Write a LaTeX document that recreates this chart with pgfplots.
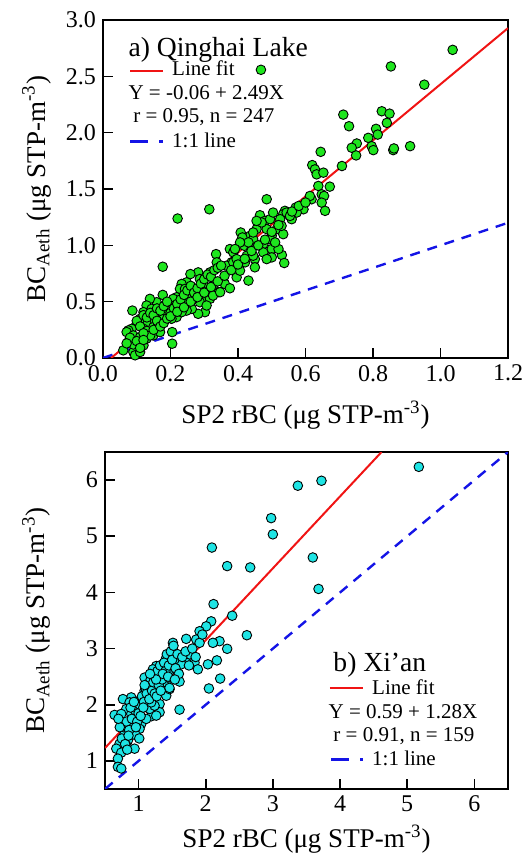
\documentclass[border=0pt]{standalone}
\usepackage{fontspec}
\setmainfont{Liberation Serif}
\usepackage{pgfplots}
\pgfplotsset{compat=1.18}
\definecolor{qgreen}{RGB}{30,230,30}
\definecolor{xcyan}{RGB}{30,228,228}
\definecolor{fitred}{RGB}{240,20,20}
\definecolor{oneblue}{RGB}{20,20,230}

\tikzset{
  fitline/.style={fitred, line width=1pt},
  oneline/.style={oneblue, line width=1.2pt, dash pattern=on 5pt off 4pt},
  onekey/.style={oneblue, line width=1.2pt, dash pattern=on 9pt off 5.5pt on 2pt off 5pt},
  lgd/.style={anchor=base west, inner sep=0pt, font=\fontsize{10.5}{12}\selectfont},
}
\pgfplotsset{
  panel/.style={
    width=202.5pt, height=169pt, scale only axis,
    axis line style={line width=1pt},
    tick align=inside, tick pos=left,
    major tick length=5pt,
    tick style={line width=0.8pt, black},
    ticklabel style={font=\fontsize{12}{14}\selectfont},
    label style={font=\fontsize{13.5}{15}\selectfont},
    /pgf/number format/assume math mode=true,
  },
  dots/.style={only marks, mark=*, mark size=2.4pt,
    mark options={fill=#1, draw=black, line width=0.45pt}},
}

\begin{document}
\begin{tikzpicture}
\useasboundingbox (-51.5pt,10pt) rectangle (211pt,-418pt);

% a) Qinghai Lake
\begin{axis}[panel, at={(0,0)}, anchor=north west,
    xmin=0, xmax=1.2, ymin=0, ymax=3,
    xtick={0,0.2,0.4,0.6,0.8,1.0,1.2},
    ytick={0,0.5,1.0,1.5,2.0,2.5,3.0},
    /pgf/number format/.cd, fixed, fixed zerofill, precision=1, /pgfplots/.cd,
    xlabel={SP2 rBC (μg STP-m\textsuperscript{-3})},
    ylabel={BC\textsubscript{Aeth} (μg STP-m\textsuperscript{-3})},
    xlabel style={at={(axis description cs:0.5,-0.195)}, anchor=base},
    ylabel style={at={(axis description cs:-0.143,0.5)}, anchor=base},
]
\addplot[dots=qgreen] coordinates {
(1.036,2.735) (0.468,2.558) (0.853,2.588) (0.952,2.426) (0.712,2.160) (0.729,2.057)
(0.826,2.190) (0.849,2.169) (0.841,2.087) (0.809,2.034) (0.814,1.983) (0.786,1.954)
(0.796,1.880) (0.801,1.845) (0.752,1.904) (0.737,1.866) (0.750,1.798) (0.860,1.845)
(0.862,1.860) (0.910,1.880) (0.708,1.704) (0.645,1.830) (0.620,1.712) (0.628,1.674)
(0.633,1.630) (0.653,1.645) (0.672,1.521) (0.638,1.527) (0.618,1.409) (0.648,1.453)
(0.655,1.438) (0.648,1.379) (0.658,1.306) (0.613,1.438) (0.594,1.320) (0.571,1.335)
(0.564,1.291) (0.559,1.232) (0.539,1.306) (0.534,1.276) (0.485,1.409) (0.465,1.267)
(0.480,1.217) (0.495,1.232) (0.504,1.291) (0.515,1.144) (0.534,1.099) (0.500,1.085)
(0.495,1.055) (0.455,1.144) (0.436,1.085) (0.408,1.114) (0.413,1.070) (0.419,0.996)
(0.445,1.055) (0.465,0.996) (0.475,1.011) (0.500,0.967) (0.500,0.893) (0.530,0.914)
(0.537,0.843) (0.450,0.878) (0.426,0.908) (0.450,0.805) (0.431,0.687) (0.396,0.716)
(0.406,0.775) (0.376,0.967) (0.386,0.937) (0.381,0.849) (0.376,0.819) (0.366,0.819)
(0.335,0.922) (0.337,0.849) (0.317,0.760) (0.315,1.320) (0.221,1.238) (0.177,0.810)
(0.361,0.657) (0.376,0.619) (0.342,0.584) (0.314,0.584) (0.307,0.525) (0.287,0.495)
(0.302,0.407) (0.282,0.392) (0.282,0.760) (0.277,0.613) (0.268,0.525) (0.253,0.613)
(0.248,0.672) (0.233,0.657) (0.228,0.613) (0.218,0.539) (0.233,0.466) (0.208,0.525)
(0.199,0.466) (0.208,0.421) (0.218,0.363) (0.189,0.392) (0.203,0.348) (0.205,0.230)
(0.205,0.127) (0.177,0.560) (0.159,0.495) (0.139,0.525) (0.129,0.466) (0.144,0.436)
(0.159,0.407) (0.169,0.363) (0.144,0.333) (0.129,0.304) (0.120,0.259) (0.149,0.274)
(0.164,0.304) (0.110,0.348) (0.120,0.407) (0.087,0.421) (0.100,0.304) (0.085,0.259)
(0.075,0.245) (0.070,0.230) (0.090,0.200) (0.085,0.141) (0.100,0.097) (0.120,0.112)
(0.129,0.171) (0.110,0.186) (0.149,0.200) (0.169,0.230) (0.060,0.068) (0.075,0.141)
(0.090,0.053) (0.095,0.024) (0.110,0.053) (0.134,0.230) (0.179,0.348) (0.189,0.466)
(0.243,0.613) (0.259,0.745) (0.287,0.701) (0.298,0.657) (0.326,0.643) (0.298,0.584)
(0.263,0.554) (0.248,0.495) (0.263,0.436) (0.248,0.421) (0.233,0.407) (0.317,0.525)
(0.326,0.554) (0.347,0.584) (0.307,0.466) (0.386,0.849) (0.396,0.878) (0.421,0.849)
(0.440,0.967) (0.445,0.908) (0.475,0.937) (0.485,0.878) (0.520,0.967) (0.510,1.026)
(0.525,1.232) (0.529,1.173) (0.544,1.291) (0.574,1.291) (0.554,1.261) (0.485,1.144)
(0.470,1.203) (0.455,1.217) (0.445,1.114) (0.431,1.026) (0.406,1.026) (0.391,0.967)
(0.10,0.33) (0.12,0.38) (0.13,0.36) (0.14,0.40) (0.15,0.38) (0.16,0.44) (0.17,0.42)
(0.11,0.28) (0.13,0.24) (0.14,0.20) (0.12,0.22) (0.16,0.33) (0.18,0.46) (0.19,0.50)
(0.20,0.40) (0.21,0.44) (0.22,0.48) (0.23,0.52) (0.24,0.56) (0.25,0.60) (0.26,0.64)
(0.27,0.58) (0.28,0.62) (0.29,0.66) (0.30,0.70) (0.31,0.74) (0.32,0.72) (0.33,0.78)
(0.34,0.80) (0.35,0.82) (0.09,0.12) (0.08,0.18) (0.07,0.13) (0.10,0.15) (0.11,0.09)
(0.12,0.16) (0.15,0.25) (0.17,0.28) (0.18,0.31) (0.19,0.35) (0.20,0.37) (0.22,0.41)
(0.24,0.45) (0.26,0.50) (0.28,0.54) (0.30,0.58) (0.32,0.63) (0.34,0.68) (0.36,0.73)
(0.38,0.78) (0.40,0.83) (0.42,0.88) (0.44,0.95) (0.46,1.00) (0.48,1.05) (0.50,1.12)
(0.52,1.18) (0.56,1.30) (0.58,1.35) (0.60,1.38)
};
\addplot[oneline] coordinates {(0,0) (1.2,1.2)};
\addplot[fitline] coordinates {(0.0241,0) (1.2,2.928)};
\node[anchor=base west, inner sep=0pt, font=\fontsize{13.8}{15}\selectfont] at (rel axis cs:0.062,0.891) {a) Qinghai Lake};
\draw[fitline] (rel axis cs:0.067,0.850) -- (rel axis cs:0.148,0.850);
\node[lgd] at (rel axis cs:0.170,0.835) {Line fit};
\node[lgd] at (rel axis cs:0.062,0.764) {Y = -0.06 + 2.49X};
\node[lgd] at (rel axis cs:0.074,0.696) {r = 0.95, n = 247};
\draw[onekey] (rel axis cs:0.067,0.640) -- (rel axis cs:0.148,0.640);
\node[lgd] at (rel axis cs:0.170,0.622) {1:1 line};
\end{axis}

% b) Xi'an
\begin{axis}[panel, at={(1pt,-216pt)}, anchor=north west,
    height=168.5pt, width=201.5pt,
    xmin=0.5, xmax=6.5, ymin=0.5, ymax=6.5,
    xtick={1,2,3,4,5,6}, ytick={1,2,3,4,5,6},
    xlabel={SP2 rBC (μg STP-m\textsuperscript{-3})},
    ylabel={BC\textsubscript{Aeth} (μg STP-m\textsuperscript{-3})},
    xlabel style={at={(axis description cs:0.5,-0.175)}, anchor=base},
    ylabel style={at={(axis description cs:-0.149,0.5)}, anchor=base},
]
\addplot[dots=xcyan] coordinates {
(5.172,6.236) (3.371,5.900) (3.723,5.988) (2.974,5.323) (2.999,5.034) (2.091,4.799)
(2.319,4.469) (2.662,4.445) (3.594,4.622) (3.679,4.062) (2.116,3.792) (2.394,3.585)
(2.612,3.238) (2.319,2.996) (2.205,3.132) (2.106,3.102) (2.166,2.790) (2.032,2.720)
(2.047,2.290) (2.215,2.466) (2.081,3.485) (2.007,3.397) (1.908,3.309) (1.858,3.161)
(1.908,3.102) (1.709,3.173) (1.833,2.749) (1.883,2.631) (1.759,2.896) (1.709,2.749)
(1.610,2.413) (1.610,1.913) (1.511,3.102) (1.521,2.955) (1.486,2.749) (1.461,2.602)
(1.412,2.837) (1.362,2.643) (1.313,2.514) (1.263,2.690) (1.213,2.514) (1.164,2.396)
(1.114,2.455) (1.089,2.249) (1.139,2.160) (1.213,2.160) (1.263,2.278) (1.313,2.278)
(1.362,2.337) (1.412,2.396) (1.313,2.013) (1.313,1.866) (1.188,1.795) (1.114,1.983)
(1.064,2.042) (1.015,2.072) (0.916,1.983) (0.891,2.131) (0.767,2.101) (0.866,2.042)
(0.817,1.925) (0.643,1.819) (0.742,1.836) (0.891,1.836) (0.940,1.748) (1.040,1.660)
(0.916,1.630) (0.940,1.483) (0.792,1.483) (0.841,1.365) (0.717,1.306) (0.668,1.218)
(0.742,1.147) (0.940,1.218) (0.692,1.041) (0.692,0.894) (0.742,0.865) (0.817,1.277)
(1.015,1.571) (0.965,1.453) (0.891,1.689) (1.114,1.748) (1.164,1.925) (1.238,1.983)
(1.263,1.807) (1.188,2.042) (0.965,1.895) (1.412,2.160) (1.461,2.278) (1.437,2.484)
(1.561,2.631) (1.635,2.720) (1.536,2.808) (1.213,2.631) (1.139,2.337) (1.288,2.396)
(1.362,2.514) (1.188,2.308) (1.089,2.484)
(0.78,1.60) (0.82,1.70) (0.86,1.55) (0.90,1.75) (0.95,1.90) (1.00,1.85) (1.02,2.00)
(1.05,2.15) (1.08,2.05) (1.10,2.30) (1.12,2.20) (1.15,2.35) (1.18,2.45) (1.20,2.25)
(1.22,2.40) (1.25,2.55) (1.28,2.60) (1.30,2.35) (1.32,2.70) (1.35,2.45) (1.38,2.75)
(1.40,2.60) (1.42,2.90) (1.45,2.70) (1.48,2.95) (1.50,2.80) (1.52,3.05) (1.55,2.65)
(1.58,2.90) (1.60,2.55) (0.75,1.40) (0.80,1.30) (0.85,1.45) (0.88,1.95) (0.93,2.05)
(0.98,1.70) (1.03,1.80) (1.07,1.95) (1.16,2.10) (1.24,2.20) (1.27,2.15) (1.33,2.25)
(1.36,2.55) (1.44,2.50) (1.26,2.45) (1.17,2.55) (1.09,2.35) (1.46,2.30) (1.54,2.45)
(1.65,2.85) (1.70,2.95) (1.75,2.70) (1.80,3.00) (1.85,2.85) (1.95,3.25) (0.72,1.60)
(0.70,1.75) (0.83,1.20) (0.96,1.60) (1.01,1.40)
};
\addplot[oneline] coordinates {(0.5,0.5) (6.5,6.5)};
\addplot[fitline] coordinates {(0.5,1.23) (4.617,6.5)};
\node[anchor=base west, inner sep=0pt, font=\fontsize{13.8}{15}\selectfont] at (rel axis cs:0.566,0.348) {b) Xi’an};
\draw[fitline] (rel axis cs:0.558,0.301) -- (rel axis cs:0.640,0.301);
\node[lgd] at (rel axis cs:0.662,0.279) {Line fit};
\node[lgd] at (rel axis cs:0.554,0.210) {Y = 0.59 + 1.28X};
\node[lgd] at (rel axis cs:0.566,0.140) {r = 0.91, n = 159};
\draw[onekey] (rel axis cs:0.561,0.088) -- (rel axis cs:0.640,0.088);
\node[lgd] at (rel axis cs:0.662,0.071) {1:1 line};
\end{axis}
\end{tikzpicture}
\end{document}
